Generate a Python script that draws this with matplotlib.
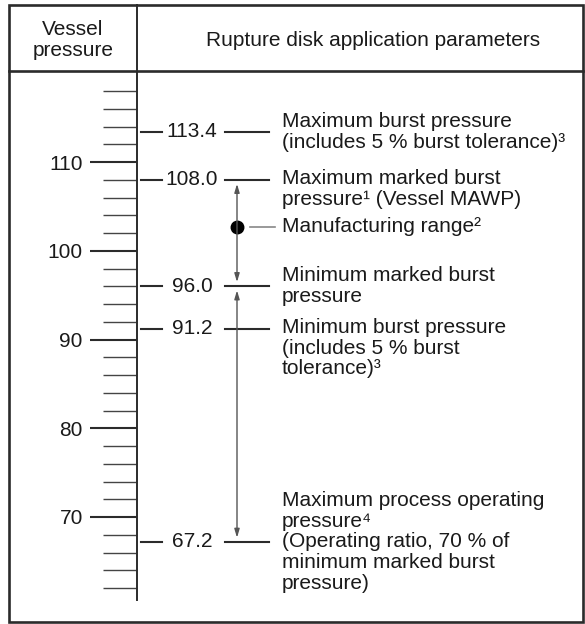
import matplotlib
matplotlib.use("Agg")
import matplotlib.pyplot as plt
from matplotlib.patches import Rectangle

plt.rcParams['font.family'] = ['Liberation Sans', 'DejaVu Sans']

# values
major_ticks = [70, 80, 90, 100, 110]
minor_ticks = [62, 64, 66, 68, 72, 74, 76, 78, 82, 84, 86, 88,
               92, 94, 96, 98, 102, 104, 106, 108, 112, 114, 116, 118]
levels = [113.4, 108.0, 96.0, 91.2, 67.2]
level_text = [
    "Maximum burst pressure\n(includes 5 % burst tolerance)³",
    "Maximum marked burst\npressure¹ (Vessel MAWP)",
    "Minimum marked burst\npressure",
    "Minimum burst pressure\n(includes 5 % burst\ntolerance)³",
    "Maximum process operating\npressure⁴\n(Operating ratio, 70 % of\nminimum marked burst\npressure)",
]
level_anchor = ['center', 'first', 'center', 'first', 'center']
mfg_point = 102.7
mfg_text = "Manufacturing range²"
header_left = "Vessel\npressure"
header_right = "Rupture disk application parameters"

W, H = 585, 624
fs = 15
ls = 1.12
txt = '#1a1a1a'
edge = '#2b2b2b'

fig = plt.figure(figsize=(W / 100, H / 100), dpi=100)

# background axes in pixel units for the frame and header
bg = fig.add_axes([0, 0, 1, 1])
bg.set_xlim(0, W)
bg.set_ylim(H, 0)
bg.axis('off')
bg.add_patch(Rectangle((9, 5), 574, 617, fill=False, lw=1.9, ec=edge))
bg.plot([9, 583], [71, 71], color=edge, lw=1.9)
bg.plot([137, 137], [5, 72], color=edge, lw=1.4)
bg.text(73, 40, header_left, ha='center', va='center', fontsize=fs,
        color=txt, linespacing=ls)
bg.text(373, 41, header_right, ha='center', va='center', fontsize=fs,
        color=txt)

# main axes: x in pixels, y in vessel pressure
y_top = 110 + (162 - 72) / 8.875
y_bot = 110 - (622 - 162) / 8.875
ax = fig.add_axes([9 / W, (H - 622) / H, 574 / W, 550 / H])
ax.set_xlim(9, 583)
ax.set_ylim(y_bot, y_top)
ax.patch.set_alpha(0)
for s in ['top', 'right', 'bottom']:
    ax.spines[s].set_visible(False)
ax.spines['left'].set_position(('data', 137))
ax.spines['left'].set_bounds(60.6, y_top)
ax.spines['left'].set_linewidth(1.4)
ax.spines['left'].set_color(edge)
ax.set_xticks([])
ax.set_yticks(major_ticks)
ax.set_yticks(minor_ticks, minor=True)
ax.tick_params(axis='y', which='major', direction='out', length=34,
               width=1.5, color=edge, labelsize=fs, labelcolor=txt, pad=5)
ax.tick_params(axis='y', which='minor', direction='out', length=24.5,
               width=1.0, color='#444444')

# level markers with values and descriptions
for v, label, anchor in zip(levels, level_text, level_anchor):
    ax.plot([141, 162], [v, v], color=edge, lw=1.5)
    ax.plot([225, 269], [v, v], color=edge, lw=1.5)
    ax.text(192, v, f'{v:.1f}', ha='center', va='center', fontsize=fs,
            color=txt)
    if anchor == 'center':
        ax.text(282, v, label, ha='left', va='center', fontsize=fs,
                color=txt, linespacing=ls)
    else:
        ax.annotate(label, xy=(282, v), xytext=(0, 11),
                    textcoords='offset pixels', ha='left', va='top',
                    fontsize=fs, color=txt, linespacing=ls)

# manufacturing range arrows and dot
arrow = dict(arrowstyle='<|-|>,head_length=0.5,head_width=0.15',
             color='#555555', lw=1.0, shrinkA=3, shrinkB=3)
ax.annotate('', xy=(237, levels[1]), xytext=(237, levels[2]),
            arrowprops=arrow)
ax.annotate('', xy=(237, levels[2]), xytext=(237, levels[4]),
            arrowprops=arrow)
ax.plot([237], [mfg_point], 'o', ms=9, color='black')
ax.plot([250, 275], [mfg_point, mfg_point], color='#888888', lw=1.2)
ax.text(282, mfg_point, mfg_text, ha='left', va='center', fontsize=fs,
        color=txt)

fig.savefig('out.png', dpi=100)
